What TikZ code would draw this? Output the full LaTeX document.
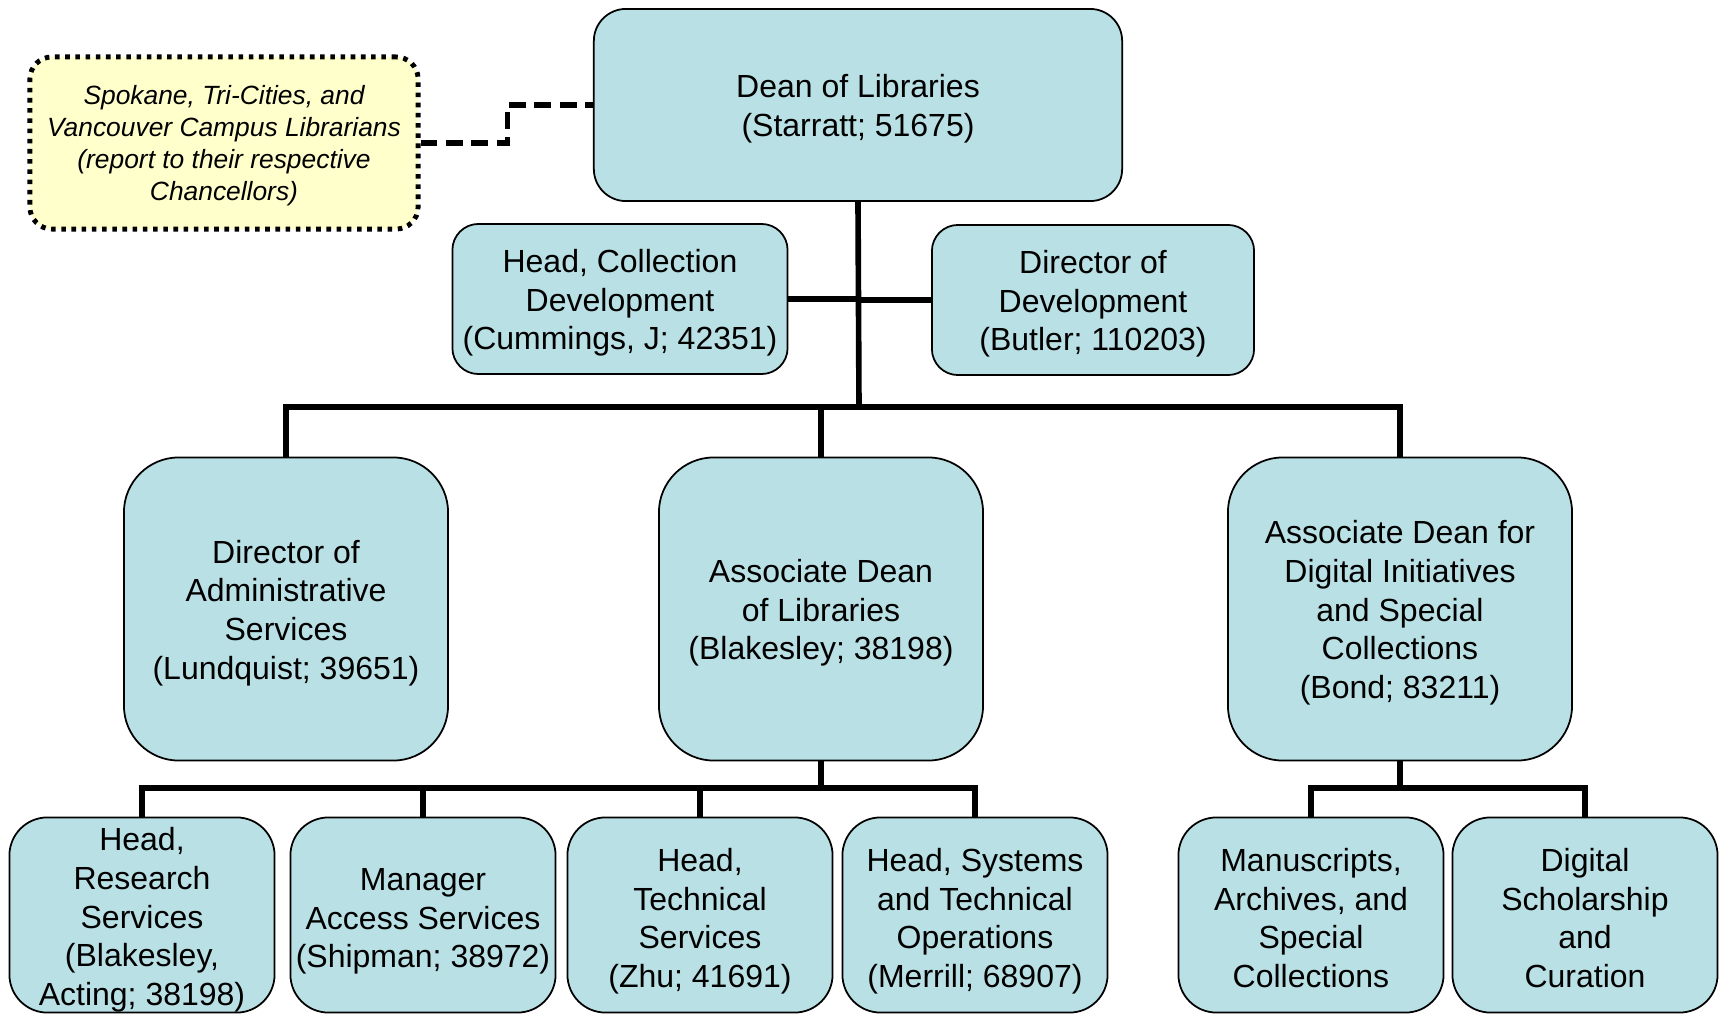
\documentclass[tikz,border=0pt]{standalone}
\usepackage{fontspec}
\setmainfont{Liberation Sans}
\definecolor{boxblue}{RGB}{185,224,228}
\definecolor{noteyellow}{RGB}{255,255,204}
\begin{document}
\begin{tikzpicture}[
    x=0.01cm, y=-0.01cm,
    % #1 = extra room above the text, so it sits a bit low in the box
    lowtext/.style={execute at begin node={\vbox\bgroup\kern#1\hbox\bgroup\rule[-2pt]{0pt}{2pt}},
        execute at end node={\egroup\egroup}},
    obox/.style={draw, fill=boxblue, line width=0.5pt, align=center, inner sep=0pt,
        font=\fontsize{9.1}{11}\selectfont, lowtext=#1},
    obox/.default=2.4pt,
    small/.style={obox, rounded corners=2.6mm, minimum height=1.5cm},
    big/.style={obox, rounded corners=5.5mm, minimum width=3.24cm, minimum height=3.03cm},
    leaf/.style={obox=#1, rounded corners=3.8mm, minimum width=2.65cm, minimum height=1.95cm},
    leaf/.default=3.7pt,
    notebox/.style={draw, fill=noteyellow, line width=1.4pt, dash pattern=on 1.3pt off 1.6pt,
        rounded corners=2.2mm, align=center, inner sep=0pt,
        font=\fontsize{7.5}{9.1}\selectfont\itshape, lowtext=2.2pt},
    link/.style={line width=1.6pt},
    dashlink/.style={line width=1.6pt, dash pattern=on 4.8pt off 2.4pt}
    ]
	\useasboundingbox (0,0) rectangle (1723,1015);
	% top of the chart
	\node [obox, rounded corners=3.2mm, minimum width=5.28cm, minimum height=1.92cm] (dean) at (858,105)
		{Dean of Libraries\\(Starratt; 51675)};
	\node [notebox, minimum width=3.88cm, minimum height=1.72cm] (campus) at (224,143)
		{Spokane, Tri-Cities, and\\Vancouver Campus Librarians\\(report to their respective\\Chancellors)};
	\node [small, minimum width=3.35cm] (headcoll) at (620,299)
		{Head, Collection\\Development\\(Cummings, J; 42351)};
	\node [small, minimum width=3.22cm] (devdir) at (1093,300)
		{Director of\\Development\\(Butler; 110203)};
	% second level
	\node [big] (admin) at (286,609)
		{Director of\\Administrative\\Services\\(Lundquist; 39651)};
	\node [big] (assoc) at (821,609)
		{Associate Dean\\of Libraries\\(Blakesley; 38198)};
	\node [big, minimum width=3.44cm] (digital) at (1400,609)
		{Associate Dean for\\Digital Initiatives\\and Special\\Collections\\(Bond; 83211)};
	% third level
	\node [leaf=2.9pt] (research) at (142,915) {Head,\\Research\\Services\\(Blakesley,\\Acting; 38198)};
	\node [leaf] (access) at (423,915) {Manager\\Access Services\\(Shipman; 38972)};
	\node [leaf] (tech) at (700,915) {Head,\\Technical\\Services\\(Zhu; 41691)};
	\node [leaf] (systems) at (975,915) {Head, Systems\\and Technical\\Operations\\(Merrill; 68907)};
	\node [leaf] (manu) at (1311,915) {Manuscripts,\\Archives, and\\Special\\Collections};
	\node [leaf] (digsch) at (1585,915) {Digital\\Scholarship\\and\\Curation};

	\coordinate (bus) at (859,407);
	\coordinate (lowbus) at (0,788);

	\draw [dashlink] (campus.east) -- ++(87,0) |- (dean.west);
	\draw [link] (dean.south) -- (bus);
	\draw [link] (headcoll.east) -- (headcoll.east -| dean.south);
	\draw [link] (devdir.west) -- (devdir.west -| dean.south);
	\draw [link] (admin.north) -- (admin.north |- bus) -- (digital.north |- bus) -- (digital.north);
	\draw [link] (assoc.north |- bus) -- (assoc.north);

	\draw [link] (research.north) -- (research.north |- lowbus) -- (systems.north |- lowbus) -- (systems.north);
	\draw [link] (assoc.south) -- (assoc.south |- lowbus);
	\foreach \n in {access, tech}
		\draw [link] (\n.north |- lowbus) -- (\n.north);
	\draw [link] (manu.north) -- (manu.north |- lowbus) -- (digsch.north |- lowbus) -- (digsch.north);
	\draw [link] (digital.south) -- (digital.south |- lowbus);
\end{tikzpicture}
\end{document}
